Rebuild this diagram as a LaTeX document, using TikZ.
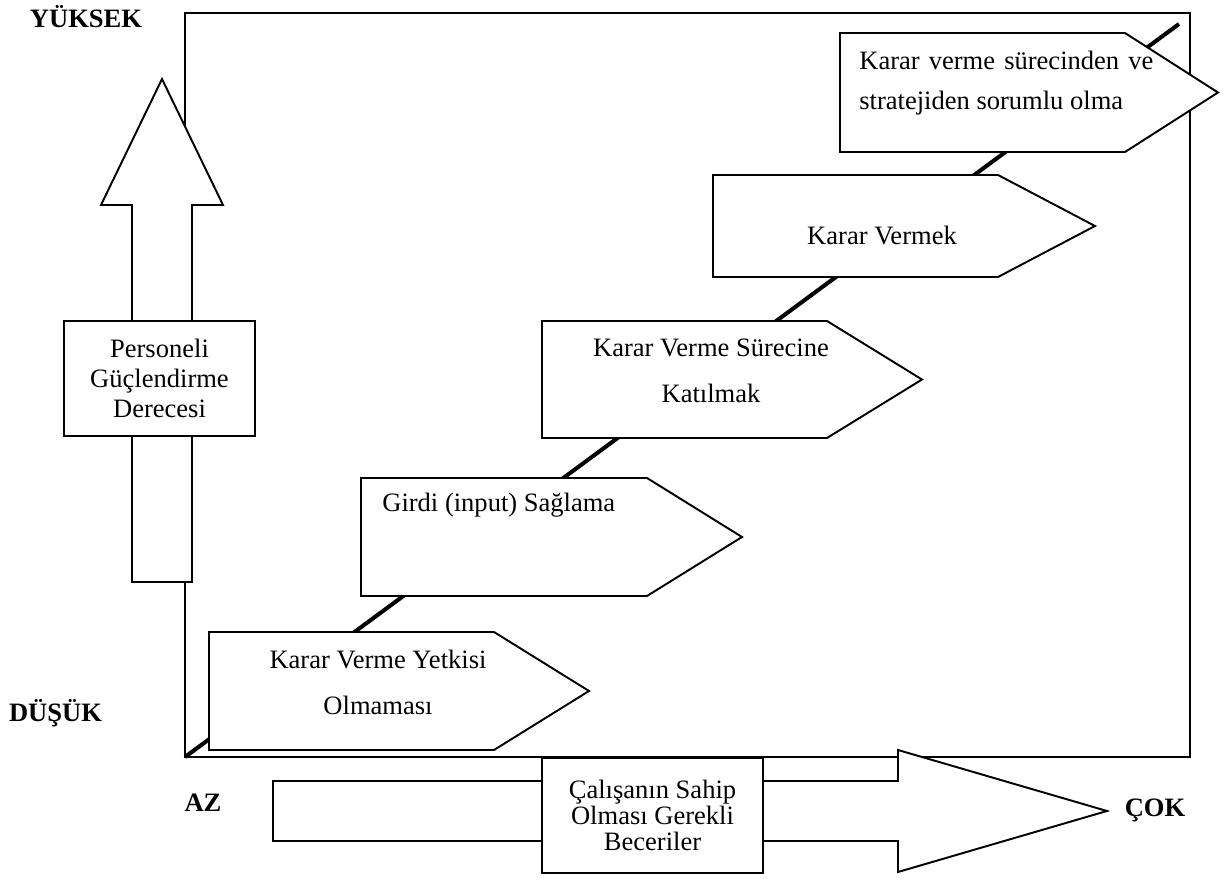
\documentclass[tikz,border=0pt]{standalone}
\usepackage{fontspec}
\setmainfont{Liberation Serif}

\begin{document}
\begin{tikzpicture}[
    font=\fontsize{15.1}{18}\selectfont,
    stage/.style={draw, line width=1.1pt, fill=white},
    textbox/.style={draw, line width=1.1pt, fill=white, align=center, inner sep=0pt},
    caption/.style={font=\bfseries\fontsize{15.1}{18}\selectfont},
    ]
    \useasboundingbox (0,0) rectangle (24.58,17.6);

    % Frame with the rising line
    \coordinate (origin) at (3.7,2.46);
    \coordinate (peak) at (23.58,17.12);
    \draw[line width=1.1pt] (origin) rectangle (23.8,17.34);
    \draw[line width=2.3pt] (origin) -- (peak);

    % Vertical arrow with its box
    \draw[stage] (2.64,5.96) -- (2.64,13.5) -- (2.02,13.5) -- (3.24,16.02)
        -- (4.46,13.5) -- (3.84,13.5) -- (3.84,5.96) -- cycle;
    \node[textbox, minimum width=3.82cm, minimum height=2.3cm,
        font=\fontsize{15.1}{17.3}\selectfont] (derece) at (3.19,10.03)
        {Personeli\\Güçlendirme\\Derecesi};

    % Horizontal arrow with its box
    \draw[stage] (5.46,0.78) -- (17.96,0.78) -- (17.96,0.16) -- (22.14,1.38)
        -- (17.96,2.6) -- (17.96,1.98) -- (5.46,1.98) -- cycle;
    \node[textbox, minimum width=4.42cm, minimum height=2.3cm,
        font=\fontsize{15.1}{14.8}\selectfont] (beceri) at (13.05,1.29)
        {Çalışanın Sahip\\Olması Gerekli\\Beceriler};

    % Steps along the line
    \foreach \l/\b/\t/\r/\p in {4.18/2.6/4.96/9.88/11.78, 7.22/5.68/8.04/12.94/14.84,
        10.84/8.84/11.18/16.54/18.44, 14.26/12.06/14.1/19.96/21.9,
        16.8/14.56/16.94/22.5/24.36}
    { \draw[stage] (\l,\b) -- (\r,\b) -- (\p,{(\b+\t)/2}) -- (\r,\t) -- (\l,\t) -- cycle; }

    \node[align=center, font=\fontsize{15.1}{26.6}\selectfont] (yetki) at (7.56,3.95)
        {Karar Verme Yetkisi\\Olmaması};
    \node[anchor=west, inner sep=0pt] (girdi) at (7.64,7.5) {Girdi (input) Sağlama};
    \node[align=center, font=\fontsize{15.1}{26}\selectfont] (katilim) at (14.22,10.18)
        {Karar Verme Sürecine\\Katılmak};
    \node (karar) at (17.64,12.88) {Karar Vermek};
    \node[anchor=west, align=left, inner sep=0pt, font=\fontsize{15.1}{22.7}\selectfont]
        (strateji) at (17.18,15.94)
        {\makebox[5.88cm][s]{Karar verme sürecinden ve}\\stratejiden sorumlu olma};

    % Axis words
    \node[caption] (yuksek) at (1.72,17.26) {YÜKSEK};
    \node[caption] (dusuk) at (1.11,3.34) {DÜŞÜK};
    \node[caption] (az) at (4.06,1.54) {AZ};
    \node[caption] (cok) at (23.1,1.4) {ÇOK};
\end{tikzpicture}
\end{document}
